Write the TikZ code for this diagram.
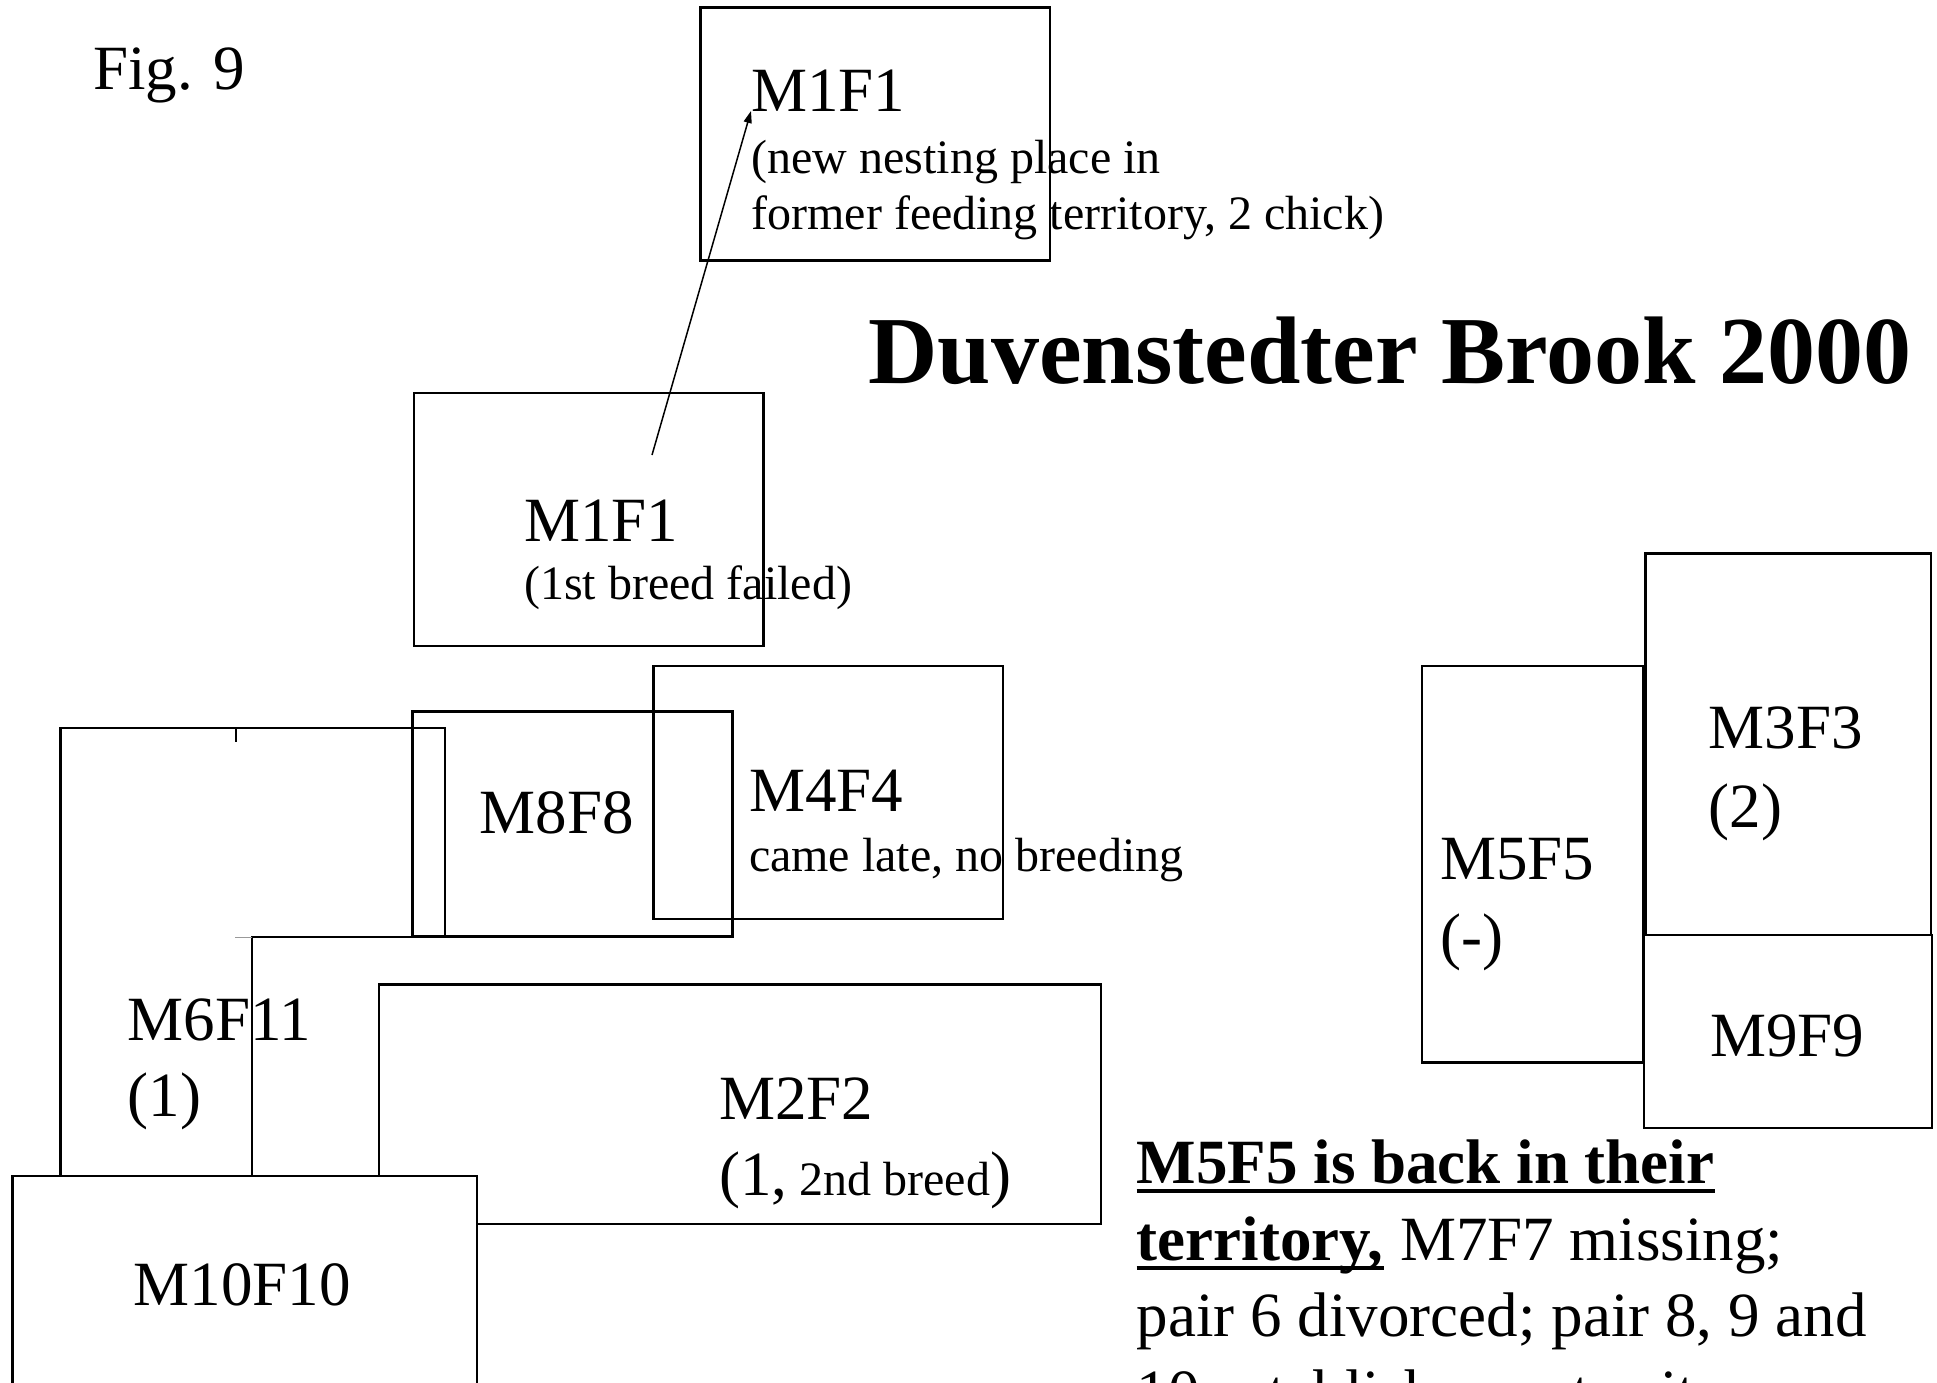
\documentclass[tikz,border=0pt]{standalone}
\usepackage{fontspec}
\setmainfont{Liberation Serif}
\usetikzlibrary{arrows.meta}

\begin{document}
\begin{tikzpicture}[x=0.5pt,y=-0.5pt,
  terr/.style={draw=black, line width=1.2pt},
  lbl/.style={inner sep=0pt, anchor=base west},
  big/.style={lbl, font=\fontsize{31.5}{38}\selectfont},
  small/.style={lbl, font=\fontsize{24}{29}\selectfont},
  uline/.style={line width=2pt},
  move/.style={line width=0.75pt, -{Triangle[length=6pt,width=4pt]}}]
\path [use as bounding box] (0,0) rectangle (1937,1382);
\clip (0,0) rectangle (1937,1382);
% heading
\node [big] (fig) at (92.6,89) {Fig. 9};
\node [lbl, font=\bfseries\fontsize{48}{58}\selectfont] (title) at (868,383) {Duvenstedter Brook 2000};
% M1F1, new place
\draw [terr] (700.4,7.4) rectangle (1050,260.6);
\node [big] (mfnew) at (751,111) {M1F1};
\node [small] (mfnewa) at (751,173) {(new nesting place in};
\node [small] (mfnewb) at (751,229.8) {former feeding territory, 2 chick)};
% M1F1, first breed
\draw [terr] (413.8,392.8) rectangle (763.4,646);
\node [big] (mfold) at (523.8,541) {M1F1};
\node [small] (mfolda) at (523.8,599) {(1st breed failed)};
\coordinate (mftail) at (652,455);
\draw [move] (mftail) -- (mfnew.base west);
% M4F4 and M8F8
\draw [terr] (653.5,665.8) rectangle (1003,919);
\node [big] (mff) at (748.6,811.6) {M4F4};
\node [small] (mffa) at (748.6,871) {came late, no breeding};
\draw [terr] (412.6,711.5) rectangle (732.5,936.4);
\node [big] (mee) at (479.3,833.8) {M8F8};
% M6F11
\draw [terr] (60.5,1176) -- (60.5,728) -- (444.7,728) -- (444.7,937) -- (252,937) -- (252,1176);
\draw [terr] (236,728) -- (236,742);
\draw [black!40, line width=0.5pt] (235,937) -- (252,937);
\node [big] (msx) at (127.2,1040) {M6F11};
\node [big] (msxa) at (127.2,1116.7) {(1)};
% M2F2
\draw [terr] (379.2,984.5) rectangle (1100.7,1224);
\node [big] (mtt) at (719,1119) {M2F2};
\node [big] (mtta) at (719,1195.8) {(1,{\fontsize{24}{29}\selectfont\ 2nd breed})};
% M5F5, M3F3, M9F9
\draw [terr] (1421.8,665.8) rectangle (1643,1062.4);
\node [big] (mfv) at (1440,879.5) {M5F5};
\node [big] (mfva) at (1440,957.4) {(-)};
\draw [terr] (1645.4,553.4) rectangle (1930.8,935);
\node [big] (mth) at (1708.4,748.6) {M3F3};
\node [big] (mtha) at (1708.4,827.7) {(2)};
\draw [terr] (1644,935) rectangle (1932,1127.8);
\node [big] (mni) at (1709.7,1056.2) {M9F9};
% M10F10 on top
\draw [terr, fill=white] (12.4,1176) rectangle (476.8,1400);
\node [big] (mten) at (133.4,1305.7) {M10F10};
% note
\node [big, font=\bfseries\fontsize{31.5}{38}\selectfont] (notea) at (1136.5,1183.4) {M5F5 is back in their};
\draw [uline] ([yshift=-4pt]notea.base west) -- ([yshift=-4pt]notea.base east);
\node [big, font=\bfseries\fontsize{31.5}{38}\selectfont] (noteb) at (1136.5,1260) {territory,};
\draw [uline] ([yshift=-4pt]noteb.base west) -- ([yshift=-4pt]noteb.base east);
\node [big] (notec) at (noteb.base east) {\ M7F7 missing;};
\node [big] (noted) at (1136.5,1336.6) {pair 6 divorced; pair 8, 9 and};
\node [big] (notee) at (1136.5,1413) {10 establish new territory};
\end{tikzpicture}
\end{document}
